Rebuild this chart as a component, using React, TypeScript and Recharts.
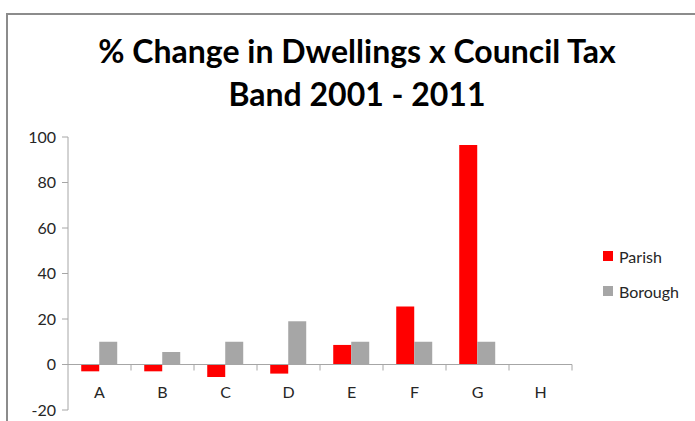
import React from 'react'
import { BarChart, Bar, XAxis, YAxis, ReferenceLine } from 'recharts'

// ── Data ─────────────────────────────────────────────────────────────────────
const bands = ['A', 'B', 'C', 'D', 'E', 'F', 'G', 'H']
const parish = [-3, -3, -5.5, -4, 8.6, 25.5, 96.5, null]
const borough = [10, 5.5, 10, 19, 10, 10, 10, null]
const yTicks = [-20, 0, 20, 40, 60, 80, 100]

const series = [
  { key: 'parish', label: 'Parish', color: '#ff0000' },
  { key: 'borough', label: 'Borough', color: '#a6a6a6' },
]

const data = bands.map((band, i) => ({ band, parish: parish[i], borough: borough[i] }))

// ── Layout ───────────────────────────────────────────────────────────────────
const W = 695
const H = 421
const M = { top: 137, right: 123, bottom: 10, left: 8 }
const PLOT_H = H - M.top - M.bottom - 1
const ZERO_Y = M.top + (PLOT_H * 100) / 120
const BAND_W = (W - M.right - M.left - 60) / bands.length
const FONT = "Lato, 'Open Sans', sans-serif"
const AXIS = '#a6a6a6'

function BandTick(props: any) {
  const { x, payload } = props
  return (
    <g>
      <line x1={x + BAND_W / 2} x2={x + BAND_W / 2} y1={ZERO_Y} y2={ZERO_Y + 6} stroke={AXIS} />
      <text x={x} y={ZERO_Y + 33} textAnchor="middle" fontSize={16} fontFamily={FONT} fill="#262626">
        {payload.value}
      </text>
    </g>
  )
}

export default function App() {
  return (
    <div style={{ position: 'absolute', left: 0, top: 0, width: W, height: H, overflow: 'hidden', background: '#fff' }}>
      <div style={{ position: 'absolute', left: 6, top: 13, width: 760, height: 500, border: '2px solid #8c8c8c' }} />
      <div
        style={{
          position: 'absolute', left: 0, top: 29, width: 714, textAlign: 'center',
          fontFamily: FONT, fontWeight: 700, fontSize: 32, lineHeight: '43px', color: '#000',
        }}
      >
        % Change in Dwellings x Council Tax<br />Band 2001 - 2011
      </div>
      <div style={{ position: 'absolute', left: 0, top: 0 }}>
        <BarChart width={W} height={H} data={data} margin={M} barGap={0} barCategoryGap="21%">
          <XAxis dataKey="band" height={1} axisLine={false} tickLine={false} tick={<BandTick />} interval={0} />
          <YAxis
            width={60}
            domain={[-20, 100]}
            ticks={yTicks}
            interval={0}
            stroke={AXIS}
            tickSize={6}
            tickMargin={6}
            tick={{ fontSize: 16, fontFamily: FONT, fill: '#262626' }}
          />
          <ReferenceLine y={0} stroke={AXIS} />
          {series.map((s) => (
            <Bar key={s.key} dataKey={s.key} fill={s.color} isAnimationActive={false} />
          ))}
        </BarChart>
      </div>
      <div style={{ position: 'absolute', left: 603, top: 246, fontFamily: FONT, fontSize: 16, color: '#262626' }}>
        {series.map((s) => (
          <div key={s.key} style={{ display: 'flex', alignItems: 'center', height: 20, marginBottom: 15 }}>
            <span style={{ display: 'inline-block', width: 10, height: 10, background: s.color, marginRight: 6 }} />
            {s.label}
          </div>
        ))}
      </div>
    </div>
  )
}
